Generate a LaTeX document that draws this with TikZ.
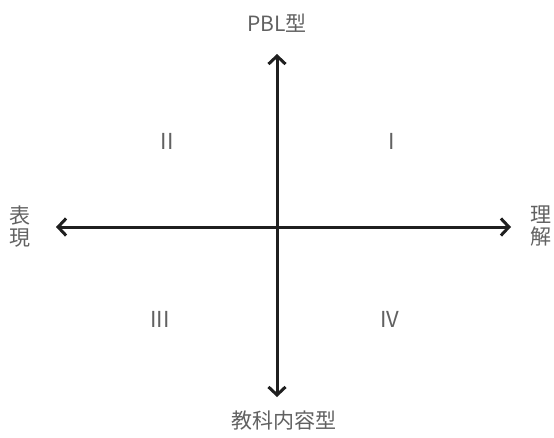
\documentclass[tikz,border=0pt]{standalone}
\usepackage{fontspec}
\setmainfont{Noto Sans CJK JP}
\usetikzlibrary{arrows.meta}
\begin{document}
\begin{tikzpicture}[x=1pt,y=-1pt,
  axis/.style={line width=3pt,draw=black!88,-{Straight Barb[length=8pt,width=17pt,line width=3pt]}},
  lab/.style={text=black!62,font=\fontsize{21}{22}\selectfont,inner sep=0pt},
  quad/.style={text=black!62,font=\fontsize{22}{22}\selectfont,inner sep=0pt}]
\useasboundingbox (0,0) rectangle (554,437);
\coordinate (o) at (277,227);
\coordinate (top) at (277,54);
\coordinate (bot) at (277,397);
\coordinate (lft) at (56,227);
\coordinate (rgt) at (511,227);
\draw[axis] (o) -- (top);
\draw[axis] (o) -- (bot);
\draw[axis] (o) -- (lft);
\draw[axis] (o) -- (rgt);
\node[lab] (pbl) at (277,23) {PBL型};
\node[lab] (kyoka) at (284,421) {教科内容型};
\node[lab,align=center] (hyo) at (20,227) {表\\現};
\node[lab,align=center] (ri) at (541,226) {理\\解};
\node[quad] (q2) at (167,141) {II};
\node[quad] (q1) at (392,141) {I};
\node[quad] (q3) at (160,319) {III};
\node[quad] (q4) at (390,319) {IV};
\end{tikzpicture}
\end{document}
